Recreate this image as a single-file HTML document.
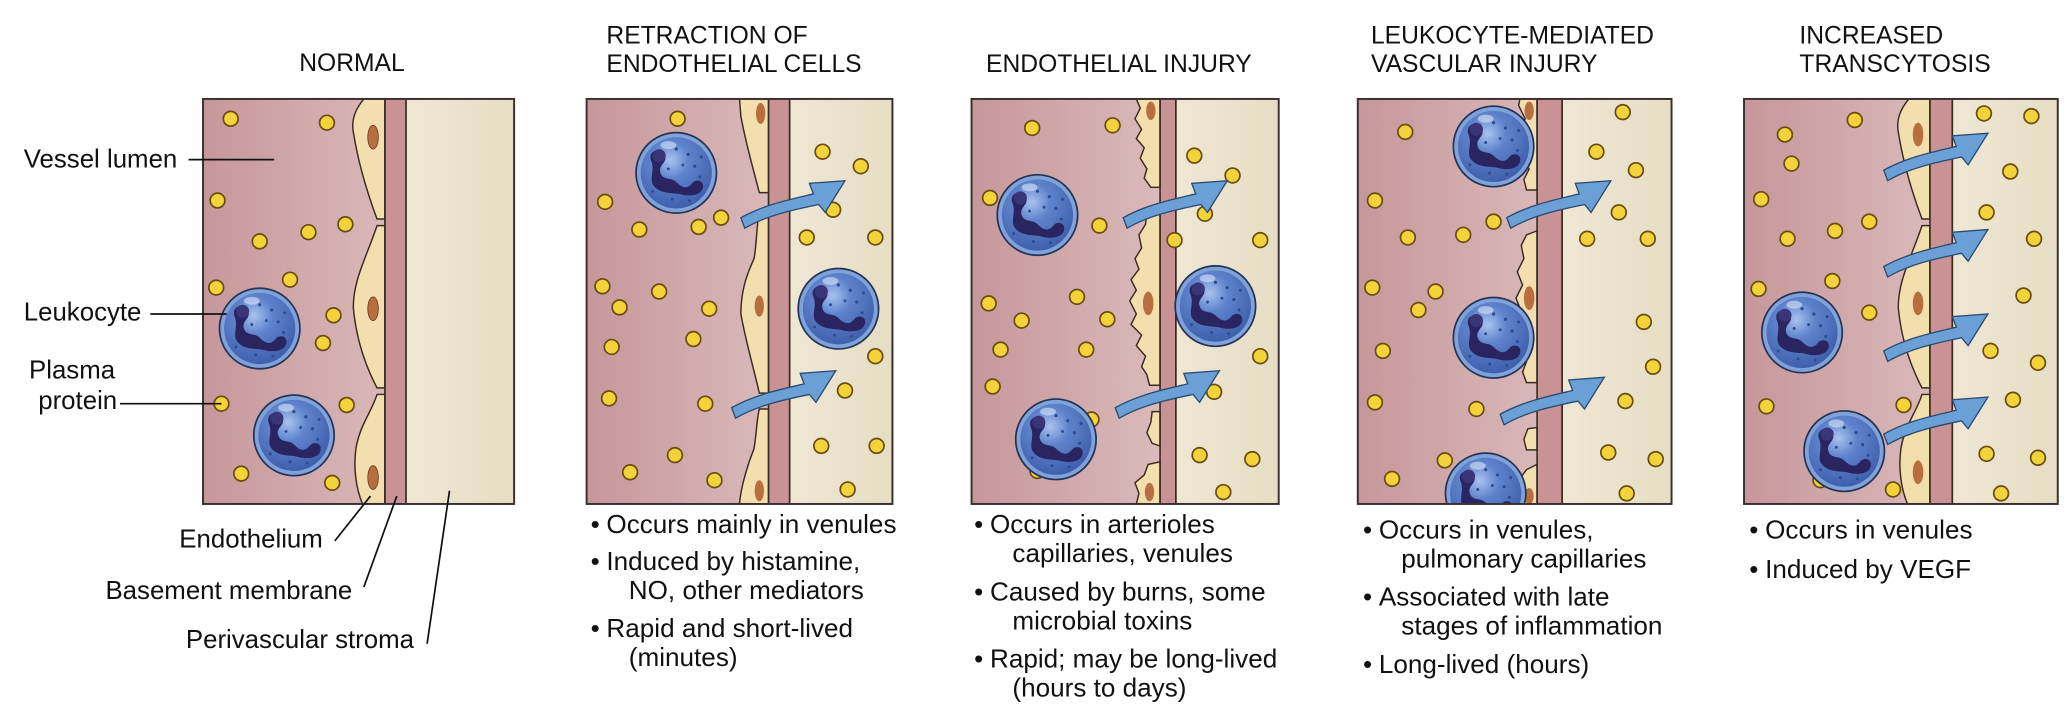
<!DOCTYPE html>
<html><head><meta charset="utf-8"><style>
html,body{margin:0;padding:0;background:#fff;}
svg{display:block;}
text{font-family:"Liberation Sans",Arial,sans-serif;fill:#111;}
.t{font-size:18.7px;}
.b{font-size:19.8px;}
.l{font-size:19.6px;}
</style></head><body>
<svg width="2067" height="719" viewBox="0 0 1568 545" preserveAspectRatio="none" xmlns="http://www.w3.org/2000/svg">
<defs>
<linearGradient id="lum" x1="0" x2="1" y1="0" y2="0">
<stop offset="0" stop-color="#c6979a"/><stop offset="0.55" stop-color="#d8b6b7"/><stop offset="1" stop-color="#ecd9d8"/>
</linearGradient>
<linearGradient id="str" x1="0" x2="1"><stop offset="0" stop-color="#eee7d4"/><stop offset="1" stop-color="#e6ddc4"/></linearGradient>
<radialGradient id="wg" cx="0.42" cy="0.32" r="0.75">
<stop offset="0" stop-color="#a9c3ef"/><stop offset="0.35" stop-color="#5e83cc"/><stop offset="1" stop-color="#3a5aa8"/>
</radialGradient>
<g id="p"><circle r="5.6" fill="#f2d33a" stroke="#6a4b12" stroke-width="1.3"/></g>
<g id="w">
<circle r="30.5" fill="#7fa3d8" stroke="#233257" stroke-width="1.3"/>
<circle r="27" fill="url(#wg)"/>
<path d="M-19,-9 C-22,-17 -12,-20 -9,-13 C-6,-8 -14,-6 -12,0 C-10,6 -4,3 0,7 C4,11 8,13 12,8 C15,4 22,6 20,12 C18,18 8,18 2,16 C-4,15 -12,16 -17,10 C-21,5 -16,-2 -19,-9 Z" fill="#2a2560"/>
<circle cx="-13" cy="-13" r="5" fill="#3a3478"/>
<g fill="#2d4a8e"><circle cx="0" cy="-18" r="1.2"/><circle cx="9" cy="-14" r="1.2"/><circle cx="14" cy="-5" r="1.2"/><circle cx="5" cy="-6" r="1.1"/><circle cx="18" cy="3" r="1.1"/><circle cx="-3" cy="20" r="1.1"/><circle cx="10" cy="21" r="1.1"/><circle cx="-18" cy="14" r="1.1"/><circle cx="-6" cy="-3" r="1.1"/><circle cx="19" cy="-12" r="1.1"/></g>
<ellipse cx="-6" cy="-21" rx="6" ry="3" fill="#d8e4f8" opacity="0.6"/>
</g>
<g id="a"><path d="M0,-3 C18,-13 38,-17 55,-21 L52,-29 L79,-31 L64,-7 L59,-13 C40,-9 20,-5 3,5 Z" fill="#6aa0d6" stroke="#2b4a70" stroke-width="1"/></g>
</defs>

<!-- ============ PANEL 1 NORMAL ============ -->
<rect x="154" y="75" width="236" height="307" fill="url(#lum)"/>
<rect x="292" y="75" width="16" height="307" fill="#c99396"/>
<rect x="308" y="75" width="82" height="307" fill="url(#str)"/>
<g fill="#f3deae" stroke="#3a2a20" stroke-width="1.1">
<path d="M292,75 L292,166 L286,166 C280,150 272,125 268,100 C266,88 272,80 276,75 Z"/>
<path d="M292,171 L292,294 L286,294 C276,275 270,255 268,233 C268,212 278,195 286,171 Z"/>
<path d="M292,299 L292,382 L275,382 C270,370 268,355 270,340 C273,322 282,312 286,299 Z"/>
</g>
<g fill="#b86e3f" stroke="#6a3a20" stroke-width="0.6"><ellipse cx="283" cy="104" rx="4" ry="9"/><ellipse cx="283" cy="234" rx="4" ry="9"/><ellipse cx="283" cy="362" rx="4" ry="9"/></g>
<line x1="292" y1="75" x2="292" y2="382" stroke="#3a2a20" stroke-width="1.3"/>
<line x1="308" y1="75" x2="308" y2="382" stroke="#3a2a20" stroke-width="1.3"/>
<rect x="154" y="75" width="236" height="307" fill="none" stroke="#3a3030" stroke-width="1.5"/>
<use href="#p" x="175" y="90"/><use href="#p" x="248" y="93"/><use href="#p" x="165" y="152"/><use href="#p" x="197" y="183"/><use href="#p" x="234" y="176"/><use href="#p" x="262" y="170"/><use href="#p" x="164" y="218"/><use href="#p" x="220" y="212"/><use href="#p" x="253" y="239"/><use href="#p" x="245" y="260"/><use href="#p" x="168" y="306"/><use href="#p" x="263" y="307"/><use href="#p" x="183" y="359"/><use href="#p" x="252" y="366"/>
<use href="#w" x="197" y="249"/><use href="#w" x="223" y="330"/>
<text class="t" x="227" y="54">NORMAL</text>
<text class="l" x="18" y="127">Vessel lumen</text>
<line x1="143" y1="121" x2="208" y2="121" stroke="#111" stroke-width="1.3"/>
<text class="l" x="18" y="243">Leukocyte</text>
<line x1="114" y1="238" x2="172" y2="238" stroke="#111" stroke-width="1.3"/>
<text class="l" x="22" y="287">Plasma</text>
<text class="l" x="29" y="310">protein</text>
<line x1="91" y1="306" x2="168" y2="306" stroke="#111" stroke-width="1.3"/>
<text class="l" x="136" y="415">Endothelium</text>
<line x1="254" y1="410" x2="281" y2="376" stroke="#111" stroke-width="1.3"/>
<text class="l" x="80" y="454">Basement membrane</text>
<line x1="276" y1="445" x2="301" y2="376" stroke="#111" stroke-width="1.3"/>
<text class="l" x="141" y="491">Perivascular stroma</text>
<line x1="324" y1="488" x2="341" y2="372" stroke="#111" stroke-width="1.3"/>

<!-- ============ PANEL 2 RETRACTION ============ -->
<rect x="445" y="75" width="232" height="307" fill="url(#lum)"/>
<rect x="583" y="75" width="16" height="307" fill="#c99396"/>
<rect x="599" y="75" width="78" height="307" fill="url(#str)"/>
<g fill="#f3deae" stroke="#3a2a20" stroke-width="1.1">
<path d="M583,75 L583,146 L576,146 C572,130 566,110 562,88 L561,75 Z"/>
<path d="M583,160 L583,298 L576,298 C572,280 566,260 562,238 C562,218 568,205 572,196 C574,186 574,170 576,160 Z"/>
<path d="M583,310 L583,382 L561,382 C562,368 568,350 572,340 C574,328 574,318 576,310 Z"/>
</g>
<line x1="583" y1="146" x2="583" y2="160" stroke="#3a2a20"/>
<g fill="#b86e3f"><ellipse cx="577" cy="86" rx="3.5" ry="8"/><ellipse cx="576" cy="232" rx="3.5" ry="8"/><ellipse cx="576" cy="372" rx="3.5" ry="8"/></g>
<line x1="583" y1="75" x2="583" y2="382" stroke="#3a2a20" stroke-width="1.2"/>
<line x1="599" y1="75" x2="599" y2="382" stroke="#3a2a20" stroke-width="1.3"/>
<rect x="445" y="75" width="232" height="307" fill="none" stroke="#3a3030" stroke-width="1.5"/>
<use href="#p" x="514" y="90"/><use href="#p" x="459" y="153"/><use href="#p" x="485" y="174"/><use href="#p" x="530" y="172"/><use href="#p" x="547" y="165"/><use href="#p" x="457" y="217"/><use href="#p" x="470" y="233"/><use href="#p" x="500" y="221"/><use href="#p" x="538" y="234"/><use href="#p" x="526" y="257"/><use href="#p" x="464" y="263"/><use href="#p" x="462" y="302"/><use href="#p" x="535" y="306"/><use href="#p" x="512" y="345"/><use href="#p" x="478" y="358"/><use href="#p" x="542" y="364"/>
<use href="#p" x="624" y="115"/><use href="#p" x="653" y="126"/><use href="#p" x="632" y="159"/><use href="#p" x="612" y="180"/><use href="#p" x="664" y="180"/><use href="#p" x="664" y="270"/><use href="#p" x="641" y="296"/><use href="#p" x="623" y="338"/><use href="#p" x="665" y="338"/><use href="#p" x="643" y="371"/>
<use href="#w" x="513" y="131"/><use href="#w" x="636" y="234"/>
<use href="#a" x="562" y="168"/><use href="#a" x="555" y="312"/>
<text class="t" x="460" y="33">RETRACTION OF</text>
<text class="t" x="460" y="54.5">ENDOTHELIAL CELLS</text>
<text class="b" x="448" y="404">•</text><text class="b" x="460" y="404">Occurs mainly in venules</text>
<text class="b" x="448" y="432">•</text><text class="b" x="460" y="432">Induced by histamine,</text>
<text class="b" x="477" y="454">NO, other mediators</text>
<text class="b" x="448" y="483">•</text><text class="b" x="460" y="483">Rapid and short-lived</text>
<text class="b" x="477" y="505">(minutes)</text>

<!-- ============ PANEL 3 ENDOTHELIAL INJURY ============ -->
<rect x="737" y="75" width="233" height="307" fill="url(#lum)"/>
<rect x="880" y="75" width="12" height="307" fill="#c99396"/>
<rect x="892" y="75" width="78" height="307" fill="url(#str)"/>
<g fill="#f3deae" stroke="#3a2a20" stroke-width="1.1">
<path d="M880,75 L880,142 L873,142 L868,135 L870,128 L865,120 L868,112 L862,105 L866,98 L861,90 L865,82 L862,75 Z"/>
<path d="M880,158 L880,292 L872,292 L870,284 L866,278 L869,270 L862,262 L866,254 L858,246 L862,238 L857,228 L862,220 L858,212 L864,204 L861,196 L866,188 L864,178 L869,170 L870,160 Z"/>
<path d="M880,312 L880,338 L874,336 L870,328 L873,320 L874,312 Z"/>
<path d="M880,350 L880,382 L862,382 L864,374 L861,366 L868,360 L871,352 Z"/>
</g>
<g fill="#b86e3f"><ellipse cx="873" cy="84" rx="3.5" ry="7"/><ellipse cx="871" cy="230" rx="4" ry="9"/><ellipse cx="872" cy="373" rx="3.5" ry="7"/></g>
<line x1="880" y1="75" x2="880" y2="382" stroke="#3a2a20" stroke-width="1.2"/>
<line x1="892" y1="75" x2="892" y2="382" stroke="#3a2a20" stroke-width="1.3"/>
<rect x="737" y="75" width="233" height="307" fill="none" stroke="#3a3030" stroke-width="1.5"/>
<use href="#p" x="783" y="97"/><use href="#p" x="844" y="95"/><use href="#p" x="751" y="150"/><use href="#p" x="834" y="171"/><use href="#p" x="750" y="230"/><use href="#p" x="817" y="225"/><use href="#p" x="775" y="243"/><use href="#p" x="840" y="242"/><use href="#p" x="759" y="265"/><use href="#p" x="824" y="265"/><use href="#p" x="753" y="293"/><use href="#p" x="828" y="318"/><use href="#p" x="787" y="357"/>
<use href="#p" x="906" y="118"/><use href="#p" x="935" y="133"/><use href="#p" x="914" y="162"/><use href="#p" x="891" y="182"/><use href="#p" x="956" y="182"/><use href="#p" x="956" y="270"/><use href="#p" x="921" y="297"/><use href="#p" x="910" y="345"/><use href="#p" x="950" y="348"/><use href="#p" x="928" y="373"/>
<use href="#w" x="787" y="163"/><use href="#w" x="801" y="333"/><use href="#w" x="922" y="232"/>
<use href="#a" x="852" y="168"/><use href="#a" x="846" y="312"/>
<text class="t" x="748" y="54.5">ENDOTHELIAL INJURY</text>
<text class="b" x="739" y="404">•</text><text class="b" x="751" y="404">Occurs in arterioles</text>
<text class="b" x="768" y="426">capillaries, venules</text>
<text class="b" x="739" y="455">•</text><text class="b" x="751" y="455">Caused by burns, some</text>
<text class="b" x="768" y="477">microbial toxins</text>
<text class="b" x="739" y="506">•</text><text class="b" x="751" y="506">Rapid; may be long-lived</text>
<text class="b" x="768" y="528">(hours to days)</text>

<!-- ============ PANEL 4 LEUKOCYTE-MEDIATED ============ -->
<rect x="1030" y="75" width="238" height="307" fill="url(#lum)"/>
<rect x="1166" y="75" width="19" height="307" fill="#c99396"/>
<rect x="1185" y="75" width="83" height="307" fill="url(#str)"/>
<g fill="#f3deae" stroke="#3a2a20" stroke-width="1.1">
<path d="M1166,75 L1166,144 L1158,144 L1156,136 L1160,128 L1155,120 L1159,110 L1153,100 L1157,90 L1152,80 L1153,75 Z"/>
<path d="M1166,175 L1166,290 L1158,290 L1155,282 L1158,274 L1152,266 L1155,256 L1150,246 L1154,236 L1150,226 L1155,216 L1151,206 L1156,196 L1154,186 L1158,178 Z"/>
<path d="M1166,324 L1166,341 L1158,341 L1156,333 L1159,325 Z"/>
<path d="M1166,352 L1166,382 L1153,382 L1155,372 L1152,364 L1158,356 Z"/>
</g>
<g fill="#b86e3f"><ellipse cx="1160" cy="84" rx="3.5" ry="7"/><ellipse cx="1160" cy="226" rx="4" ry="9"/><ellipse cx="1160" cy="376" rx="3.5" ry="6"/></g>
<line x1="1166" y1="75" x2="1166" y2="382" stroke="#3a2a20" stroke-width="1.2"/>
<line x1="1185" y1="75" x2="1185" y2="382" stroke="#3a2a20" stroke-width="1.3"/>
<use href="#p" x="1066" y="100"/><use href="#p" x="1043" y="152"/><use href="#p" x="1068" y="180"/><use href="#p" x="1110" y="178"/><use href="#p" x="1133" y="168"/><use href="#p" x="1041" y="218"/><use href="#p" x="1089" y="221"/><use href="#p" x="1076" y="235"/><use href="#p" x="1049" y="266"/><use href="#p" x="1043" y="305"/><use href="#p" x="1120" y="310"/><use href="#p" x="1096" y="349"/><use href="#p" x="1056" y="363"/>
<use href="#p" x="1231" y="85"/><use href="#p" x="1211" y="115"/><use href="#p" x="1241" y="129"/><use href="#p" x="1228" y="161"/><use href="#p" x="1204" y="181"/><use href="#p" x="1250" y="181"/><use href="#p" x="1247" y="244"/><use href="#p" x="1254" y="278"/><use href="#p" x="1233" y="304"/><use href="#p" x="1220" y="343"/><use href="#p" x="1256" y="348"/><use href="#p" x="1234" y="374"/>
<svg x="1030" y="75" width="238" height="307" viewBox="1030 75 238 307" overflow="hidden">
<use href="#w" x="1133" y="111"/><use href="#w" x="1133" y="256"/><use href="#w" x="1127" y="374"/>
</svg>
<rect x="1030" y="75" width="238" height="307" fill="none" stroke="#3a3030" stroke-width="1.5"/>
<use href="#a" x="1143" y="168"/><use href="#a" x="1138" y="317"/>
<text class="t" x="1040" y="33">LEUKOCYTE-MEDIATED</text>
<text class="t" x="1040" y="54.5">VASCULAR INJURY</text>
<text class="b" x="1034" y="408">•</text><text class="b" x="1046" y="408">Occurs in venules,</text>
<text class="b" x="1063" y="430">pulmonary capillaries</text>
<text class="b" x="1034" y="459">•</text><text class="b" x="1046" y="459">Associated with late</text>
<text class="b" x="1063" y="481">stages of inflammation</text>
<text class="b" x="1034" y="510">•</text><text class="b" x="1046" y="510">Long-lived (hours)</text>

<!-- ============ PANEL 5 TRANSCYTOSIS ============ -->
<rect x="1323" y="75" width="238" height="307" fill="url(#lum)"/>
<rect x="1464" y="75" width="17" height="307" fill="#c99396"/>
<rect x="1481" y="75" width="80" height="307" fill="url(#str)"/>
<g fill="#f3deae" stroke="#3a2a20" stroke-width="1.1">
<path d="M1464,75 L1464,166 L1458,166 C1452,150 1444,125 1440,100 C1438,88 1444,80 1448,75 Z"/>
<path d="M1464,171 L1464,294 L1458,294 C1448,275 1442,255 1440,233 C1440,212 1450,195 1458,171 Z"/>
<path d="M1464,299 L1464,382 L1447,382 C1442,370 1440,355 1442,340 C1445,322 1454,312 1458,299 Z"/>
</g>
<g fill="#b86e3f"><ellipse cx="1455" cy="102" rx="4" ry="9"/><ellipse cx="1455" cy="230" rx="4" ry="9"/><ellipse cx="1455" cy="358" rx="4" ry="9"/></g>
<line x1="1464" y1="75" x2="1464" y2="382" stroke="#3a2a20" stroke-width="1.2"/>
<line x1="1481" y1="75" x2="1481" y2="382" stroke="#3a2a20" stroke-width="1.3"/>
<rect x="1323" y="75" width="238" height="307" fill="none" stroke="#3a3030" stroke-width="1.5"/>
<use href="#p" x="1354" y="102"/><use href="#p" x="1407" y="91"/><use href="#p" x="1359" y="124"/><use href="#p" x="1336" y="151"/><use href="#p" x="1392" y="175"/><use href="#p" x="1418" y="168"/><use href="#p" x="1356" y="181"/><use href="#p" x="1334" y="219"/><use href="#p" x="1390" y="213"/><use href="#p" x="1418" y="237"/><use href="#p" x="1340" y="308"/><use href="#p" x="1444" y="307"/><use href="#p" x="1381" y="364"/><use href="#p" x="1436" y="371"/>
<use href="#p" x="1505" y="86"/><use href="#p" x="1541" y="88"/><use href="#p" x="1525" y="130"/><use href="#p" x="1507" y="161"/><use href="#p" x="1543" y="181"/><use href="#p" x="1535" y="224"/><use href="#p" x="1510" y="266"/><use href="#p" x="1546" y="275"/><use href="#p" x="1527" y="303"/><use href="#p" x="1507" y="344"/><use href="#p" x="1546" y="347"/><use href="#p" x="1518" y="374"/>
<use href="#w" x="1367" y="252"/><use href="#w" x="1399" y="342"/>
<use href="#a" x="1429" y="132"/><use href="#a" x="1429" y="205"/><use href="#a" x="1429" y="269"/><use href="#a" x="1429" y="332"/>
<text class="t" x="1365" y="33">INCREASED</text>
<text class="t" x="1365" y="54.5">TRANSCYTOSIS</text>
<text class="b" x="1327" y="408">•</text><text class="b" x="1339" y="408">Occurs in venules</text>
<text class="b" x="1327" y="438">•</text><text class="b" x="1339" y="438">Induced by VEGF</text>
</svg>
</body></html>
